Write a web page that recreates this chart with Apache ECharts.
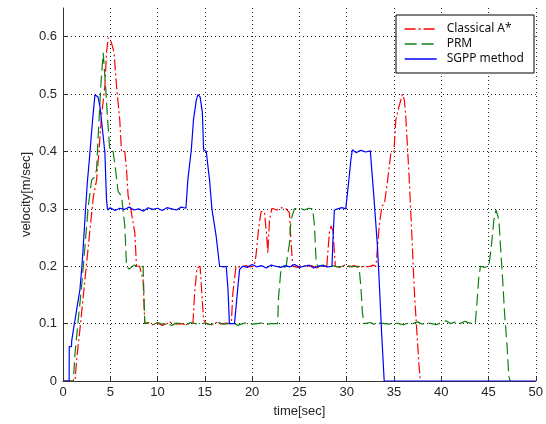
<!DOCTYPE html>
<html>
<head>
<meta charset="utf-8">
<script src="https://cdn.jsdelivr.net/npm/echarts@6/dist/echarts.min.js"></script>
<style>html,body{margin:0;padding:0;background:#fff;}#c{width:546px;height:424px;}</style>
</head>
<body>
<div id="c"></div>
<script>
var seriesNames = ['Classical A*', 'PRM', 'SGPP method'];

var aStarT = [0,1.27,1.44,1.79,2.14, 2.5,2.85,3.2,3.55,3.8, 4.07,4.43,4.6,4.78,5.0, 5.13,5.4,5.66,6.0,6.19,
  6.54,6.72,6.89,7.24,7.6, 7.77,8.1,8.3,8.47,8.65, 9.0,9.5,10,10.5,11, 11.5,12,12.5,13,13.5,
  13.74,13.92,14.17,14.5,14.73, 14.87,15.2,15.7,16.2,16.7, 17.2,17.8,17.96,18.3,18.8, 19.3,19.8,20.2,20.4,20.67,
  20.94,21.3,21.55,21.66,21.84, 22.1,22.6,23.1,23.6,23.95, 24.1,24.3,24.8,25.3,25.8, 26.3,26.8,27.3,27.9,28.17,
  28.34,28.55,28.8,29.3,29.8, 30.3,30.8,31.3,31.8,32.3, 32.8,33.1,33.44,33.72,34.0, 34.3,34.67,35.0,35.2,35.55,
  35.9,36.1,36.25,36.6,36.95, 37.13,37.3,37.66,37.8];
var aStarV = [0,0,0.037,0.09,0.147, 0.206,0.263,0.32,0.35,0.4, 0.461,0.514,0.572,0.598,0.595, 0.589,0.572,0.514,0.455,0.4,
  0.4,0.368,0.322,0.293,0.258, 0.2,0.2,0.198,0.176,0.1, 0.102,0.098,0.101,0.097,0.1, 0.103,0.099,0.1,0.098,0.101,
  0.1,0.153,0.197,0.2,0.141, 0.106,0.1,0.098,0.102,0.099, 0.101,0.1,0.153,0.2,0.198, 0.201,0.199,0.2,0.217,0.263,
  0.295,0.295,0.252,0.223,0.281, 0.301,0.298,0.302,0.3,0.293, 0.246,0.2,0.198,0.202,0.199, 0.201,0.197,0.2,0.2,0.258,
  0.27,0.262,0.2,0.198,0.202, 0.199,0.201,0.197,0.2,0.199, 0.202,0.2,0.27,0.304,0.31, 0.345,0.397,0.4,0.455,0.479,
  0.5,0.49,0.461,0.357,0.234, 0.165,0.118,0.025,0];

var prmT = [0,1.09,1.27,1.61,1.97, 2.32,2.67,3.03,3.3,3.55, 3.72,4.0,4.25,4.35,4.5, 4.72,4.96,5.3,5.56,5.83,
  6.19,6.54,6.72,7.0,7.5, 8.0,8.47,8.65,9,9.5, 10,10.5,11,11.5,12, 12.5,13,13.5,14,14.5,
  15,15.5,16,16.5,17, 17.5,18,18.5,19,19.5, 20,20.5,21,21.5,22, 22.7,22.8,23.05,23.6,23.95,
  24.1,24.47,25,25.5,26, 26.4,26.6,26.76,26.9,27.5, 28,28.5,29,29.5,30, 30.5,31,31.3,31.5,31.67,
  31.85,32.5,33,33.5,34, 34.5,35,35.5,36,36.5, 37,37.5,38,38.5,39, 39.5,40,40.5,41,41.5,
  42,42.5,43,43.6,43.8, 43.98,44.16,44.6,45.04,45.3, 45.57,45.8,45.95,46.1,46.27, 46.5,46.7,46.97,47.15,47.3];
var prmV = [0,0,0.048,0.106,0.165, 0.234,0.304,0.35,0.355,0.368, 0.426,0.514,0.572,0.575,0.514, 0.455,0.4,0.4,0.368,0.33,
  0.322,0.27,0.2,0.195,0.202, 0.198,0.2,0.1,0.101,0.098, 0.102,0.099,0.1,0.097,0.101, 0.1,0.098,0.102,0.1,0.099,
  0.101,0.098,0.1,0.102,0.099, 0.1,0.101,0.097,0.1,0.102, 0.099,0.1,0.101,0.098,0.1, 0.1,0.147,0.194,0.2,0.24,
  0.28,0.3,0.302,0.298,0.301, 0.3,0.27,0.211,0.2,0.202, 0.198,0.201,0.199,0.2,0.202, 0.199,0.2,0.2,0.165,0.118,
  0.1,0.102,0.098,0.101,0.1, 0.099,0.102,0.1,0.098,0.101, 0.1,0.103,0.099,0.101,0.1, 0.098,0.102,0.105,0.1,0.103,
  0.1,0.104,0.101,0.1,0.141, 0.182,0.2,0.198,0.2,0.234, 0.281,0.298,0.3,0.281,0.234, 0.176,0.118,0.06,0.008,0];

var sgppT = [0,0.65,0.66,0.9,0.92, 1.2,1.27,1.44,1.6,1.79, 2.0,2.14,2.35,2.57,2.85, 3.13,3.38,3.55,3.7,3.9,
  4.1,4.43,4.6,4.72,5.0, 5.5,6.0,6.5,7.0,7.5, 8.0,8.5,9.0,9.5,10.0, 10.5,11.0,11.5,12.0,12.5,
  13.0,13.2,13.57,13.8,14.1, 14.27,14.5,14.74,14.87,15.15, 15.5,15.75,16.2,16.56,17.0, 17.26,17.45,17.6,18.14,18.4,
  18.67,19.0,19.5,20.0,20.5, 21.0,21.5,22.0,22.5,23.0, 23.5,24.0,24.5,25.0,25.5, 26.0,26.5,27.0,27.5,28.0,
  28.45,28.55,28.7,29.04,29.5, 29.9,30.2,30.45,30.6,31.0, 31.5,32.0,32.5,32.7,32.9, 33.26,33.4,33.7,33.97,50];
var sgppV = [0,0,0.06,0.06,0.07, 0.1,0.106,0.124,0.14,0.159, 0.2,0.234,0.29,0.345,0.398, 0.455,0.499,0.5,0.495,0.479,
  0.45,0.398,0.316,0.298,0.302, 0.297,0.301,0.299,0.303,0.298, 0.3,0.296,0.302,0.299,0.301, 0.297,0.302,0.3,0.298,0.303,
  0.301,0.35,0.403,0.455,0.49, 0.499,0.495,0.468,0.403,0.4, 0.35,0.3,0.252,0.2,0.199, 0.2,0.16,0.1,0.1,0.147,
  0.194,0.2,0.198,0.203,0.199, 0.201,0.197,0.202,0.2,0.198, 0.201,0.199,0.203,0.198,0.2, 0.202,0.197,0.2,0.201,0.199,
  0.2,0.246,0.298,0.3,0.302, 0.3,0.345,0.386,0.403,0.398, 0.402,0.399,0.401,0.4,0.316, 0.234,0.188,0.083,0,0];

var xTicks = [0,5,10,15,20,25,30,35,40,45,50];
var yTicks = [0,0.1,0.2,0.3,0.4,0.5,0.6];

var colors = ['#ff0000', '#108010', '#0000ff'];
var dashes = [[11, 3, 2, 3], [12, 5], 'solid'];

function pairs(t, v) {
  var out = [], n = Math.min(t.length, v.length);
  for (var i = 0; i < n; i++) out.push([t[i], v[i]]);
  return out;
}

var chart = echarts.init(document.getElementById('c'), null, {renderer: 'canvas'});
var axisCol = '#333333';
var labelFont = {color: '#262626', fontSize: 13, fontFamily: 'Liberation Sans, Arial, sans-serif'};
chart.setOption({
  animation: false,
  backgroundColor: '#ffffff',
  grid: {left: 63, right: 9, top: 8, bottom: 43},
  legend: {
    orient: 'vertical', left: 396, top: 15,
    padding: [8, 10, 8, 8], itemGap: 3, itemWidth: 32, itemHeight: 14,
    backgroundColor: '#ffffff', borderColor: '#000000', borderWidth: 1, borderRadius: 0,
    itemStyle: {opacity: 0},
    textStyle: {color: '#111', fontSize: 12, fontFamily: 'Noto Sans, DejaVu Sans, sans-serif', padding: [0, 0, 0, 5]},
    data: seriesNames.map(function (n, i) {
      return {name: n, itemStyle: {opacity: 0}, lineStyle: {color: colors[i], width: 1.3, type: dashes[i], opacity: 1}};
    })
  },
  xAxis: {
    type: 'value', min: 0, max: 50, interval: 5,
    name: 'time[sec]', nameLocation: 'middle', nameGap: 24, nameMoveOverlap: false,
    nameTextStyle: {color: '#262626', fontSize: 13, fontFamily: 'Liberation Sans, Arial, sans-serif'},
    axisLine: {lineStyle: {color: axisCol, width: 1}},
    axisTick: {inside: true, length: 4, lineStyle: {color: axisCol}},
    axisLabel: Object.assign({margin: 5}, labelFont),
    splitLine: {show: true, lineStyle: {color: '#222', type: [1, 3], width: 1}}
  },
  yAxis: {
    type: 'value', min: 0, max: 0.65, interval: 0.1,
    name: 'velocity[m/sec]', nameLocation: 'middle', nameGap: 30, nameMoveOverlap: false,
    nameTextStyle: {color: '#262626', fontSize: 13, fontFamily: 'Liberation Sans, Arial, sans-serif'},
    axisLine: {show: true, lineStyle: {color: axisCol, width: 1}},
    axisTick: {show: true, inside: true, length: 4, lineStyle: {color: axisCol}},
    axisLabel: Object.assign({margin: 6, showMaxLabel: false,
      formatter: function (v) { return Math.abs(v * 10 - Math.round(v * 10)) < 1e-6 ? String(Math.round(v * 10) / 10) : ''; }}, labelFont),
    splitLine: {show: true, showMaxLine: false, lineStyle: {color: '#222', type: [1, 3], width: 1}}
  },
  series: [
    {name: seriesNames[0], type: 'line', symbol: 'none', z: 2, data: pairs(aStarT, aStarV),
     itemStyle: {color: colors[0]}, lineStyle: {color: colors[0], width: 1.2, type: dashes[0]}},
    {name: seriesNames[1], type: 'line', symbol: 'none', z: 3, data: pairs(prmT, prmV),
     itemStyle: {color: colors[1]}, lineStyle: {color: colors[1], width: 1.2, type: dashes[1]}},
    {name: seriesNames[2], type: 'line', symbol: 'none', z: 4, data: pairs(sgppT, sgppV),
     itemStyle: {color: colors[2]}, lineStyle: {color: colors[2], width: 1.2, type: dashes[2]}}
  ]
});
</script>
</body>
</html>
